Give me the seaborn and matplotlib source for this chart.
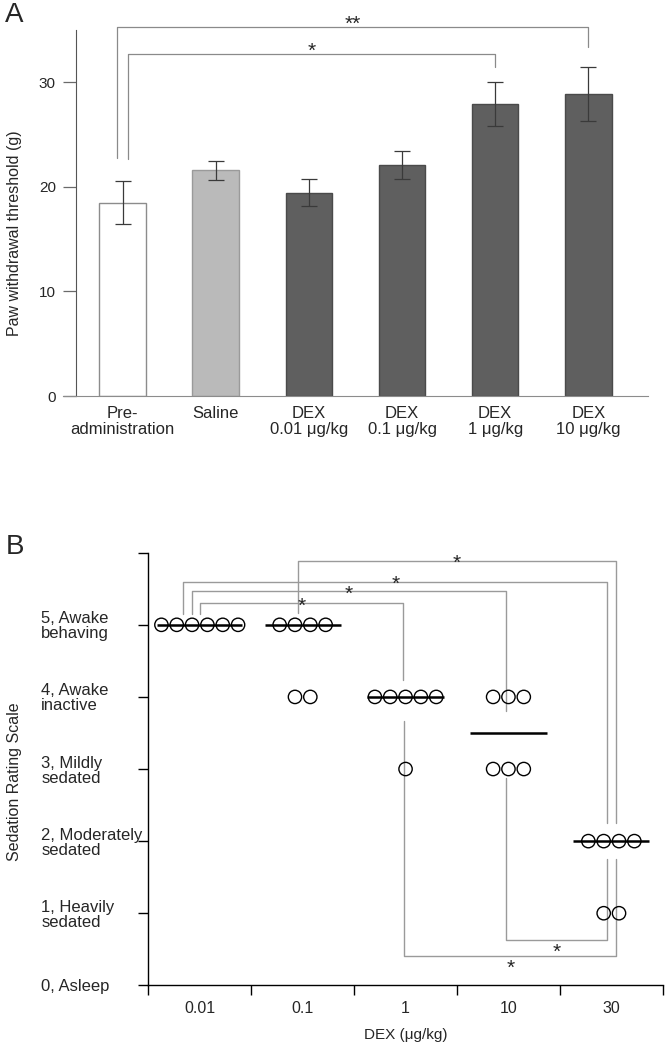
import matplotlib
matplotlib.use('Agg')
import matplotlib.pyplot as plt
import numpy as np
import pandas as pd
import seaborn as sns

# panel A: paw withdrawal threshold (mean, sem)
a_groups = ['Pre-\nadministration', 'Saline', 'DEX\n0.01 μg/kg', 'DEX\n0.1 μg/kg',
            'DEX\n1 μg/kg', 'DEX\n10 μg/kg']
a_means = [18.5, 21.6, 19.45, 22.1, 27.95, 28.9]
a_sem = [2.05, 0.9, 1.3, 1.35, 2.1, 2.6]
a_fill = ['#ffffff', '#bababa', '#5f5f5f', '#5f5f5f', '#5f5f5f', '#5f5f5f']
a_edge = ['#8c8c8c', '#9a9a9a', '#4a4a4a', '#4a4a4a', '#4a4a4a', '#4a4a4a']
# brackets: x left, x right, y of bar, y left end, y right end, label
a_brackets = [(-0.06, 5.0, 35.3, 22.8, 33.4, '**'),
              (0.06, 4.0, 32.7, 22.7, 31.5, '*')]

# panel B: sedation scores per dose
b_doses = ['0.01', '0.1', '1', '10', '30']
score_001 = [5, 5, 5, 5, 5, 5]
score_01 = [5, 5, 5, 5, 4, 4]
score_1 = [4, 4, 4, 4, 4, 3]
score_10 = [4, 4, 4, 3, 3, 3]
score_30 = [2, 2, 2, 2, 1, 1]
b_scores = [score_001, score_01, score_1, score_10, score_30]
b_levels = ['0, Asleep', '1, Heavily\nsedated', '2, Moderately\nsedated',
            '3, Mildly\nsedated', '4, Awake\ninactive', '5, Awake\nbehaving', '']
b_brackets = [(0.0, 1.98, 5.30, 5.15, 4.24, '*'),
              (-0.08, 2.98, 5.47, 5.15, 3.80, '*'),
              (-0.16, 3.96, 5.60, 5.15, 2.25, '*'),
              (0.95, 4.05, 5.89, 5.16, 2.25, '*'),
              (2.98, 3.96, 0.63, 2.87, 1.75, '*'),
              (1.985, 4.05, 0.41, 3.66, 1.75, '*')]

sns.set_style('ticks')
plt.rcParams['font.family'] = ['Liberation Sans', 'DejaVu Sans']

fig = plt.figure(figsize=(6.65, 10.48), dpi=100)

# ---------------- panel A
axa = fig.add_axes([0.0947, 0.6221, 0.8797, 0.3492])
sns.barplot(x=a_groups, y=a_means, hue=a_groups, palette=a_fill, legend=False,
            width=0.5, ax=axa, errorbar=None, linewidth=1)
for p, ec in zip(axa.patches, a_edge):
    p.set_edgecolor(ec)
axa.errorbar(np.arange(len(a_means)), a_means, yerr=a_sem, fmt='none',
             ecolor='#3a3a3a', elinewidth=0.9, capsize=6, capthick=0.9)
axa.set_xlim(-0.64, 5.64)
axa.set_ylim(0, 35)
axa.set_yticks([0, 10, 20, 30])
axa.spines['left'].set_position(('data', -0.5))
axa.spines['left'].set_color('#555555')
axa.spines['bottom'].set_color('#8c8c8c')
for s in ['top', 'right']:
    axa.spines[s].set_visible(False)
axa.tick_params(axis='y', length=9.5, width=0.9, color='#6a6a6a', pad=5, labelsize=11)
axa.tick_params(axis='x', length=0, pad=7, labelsize=12)
for t in axa.get_xticklabels():
    t.set_linespacing(1.1)
axa.set_xlabel('')
axa.set_ylabel('')
for x1, x2, yb, yl, yr, lab in a_brackets:
    axa.plot([x1, x1, x2, x2], [yl, yb, yb, yr], color='#8a8a8a', lw=0.9, clip_on=False)
    axa.annotate(lab, xy=((x1 + x2) / 2, yb), xytext=(0, -2), textcoords='offset points',
                 ha='center', va='baseline', fontsize=15, annotation_clip=False)
fig.text(14.5 / 665, 1 - 233 / 1048, 'Paw withdrawal threshold (g)', rotation=90,
         ha='center', va='center', fontsize=11.5)
fig.text(5 / 665, 1 - 15 / 1048, 'A', ha='left', va='center', fontsize=20)

# ---------------- panel B
step = 0.149
rows = []
for i, (dose, scores) in enumerate(zip(b_doses, b_scores)):
    for s in sorted(set(scores), reverse=True):
        n = scores.count(s)
        for k in range(n):
            rows.append({'dose': dose, 'score': s, 'xpos': i + (k - (n - 1) / 2) * step})
df_b = pd.DataFrame(rows)

axb = fig.add_axes([0.2230, 0.0598, 0.7737, 0.4128])
for i, scores in enumerate(b_scores):
    med = np.median(scores)
    nmax = max(scores.count(s) for s in set(scores))
    hw = max(0.37, (nmax - 1) / 2 * step + 0.04)
    axb.hlines(med, i - hw, i + hw, color='black', lw=1.8, zorder=2)
sns.scatterplot(data=df_b, x='xpos', y='score', ax=axb, s=92, marker='o',
                facecolor='none', edgecolor='black', linewidth=1, zorder=3)
for x1, x2, yb, yl, yr, lab in b_brackets:
    axb.plot([x1, x1, x2, x2], [yl, yb, yb, yr], color='#9a9a9a', lw=1, zorder=1)
    off = -6.2 if yb > yl else -13
    axb.annotate(lab, xy=((x1 + x2) / 2, yb), xytext=(0, off), textcoords='offset points',
                 ha='center', va='baseline', fontsize=15)
axb.set_xlim(-0.5, 4.5)
axb.set_ylim(0, 6)
axb.set_xticks(range(len(b_doses)))
axb.set_xticklabels(b_doses)
axb.set_xticks(np.arange(-0.5, 4.6, 1), minor=True)
axb.set_yticks(range(7))
axb.set_yticklabels(b_levels)
for s in ['top', 'right']:
    axb.spines[s].set_visible(False)
for s in ['left', 'bottom']:
    axb.spines[s].set_color('black')
    axb.spines[s].set_linewidth(1)
axb.tick_params(axis='x', which='major', length=0, pad=11, labelsize=11.5)
axb.tick_params(axis='x', which='minor', length=7, width=1, color='black')
axb.tick_params(axis='y', length=7, width=1, color='black', pad=70, labelsize=12)
for t in axb.get_yticklabels():
    t.set_ha('left')
    t.set_linespacing(1.0)
axb.set_xlabel('DEX (μg/kg)', fontsize=11, labelpad=9)
axb.set_ylabel('')
fig.text(14.5 / 665, 1 - 782 / 1048, 'Sedation Rating Scale', rotation=90,
         ha='center', va='center', fontsize=11.5)
fig.text(6 / 665, 1 - 547 / 1048, 'B', ha='left', va='center', fontsize=20)

fig.savefig('out.png', dpi=100)
